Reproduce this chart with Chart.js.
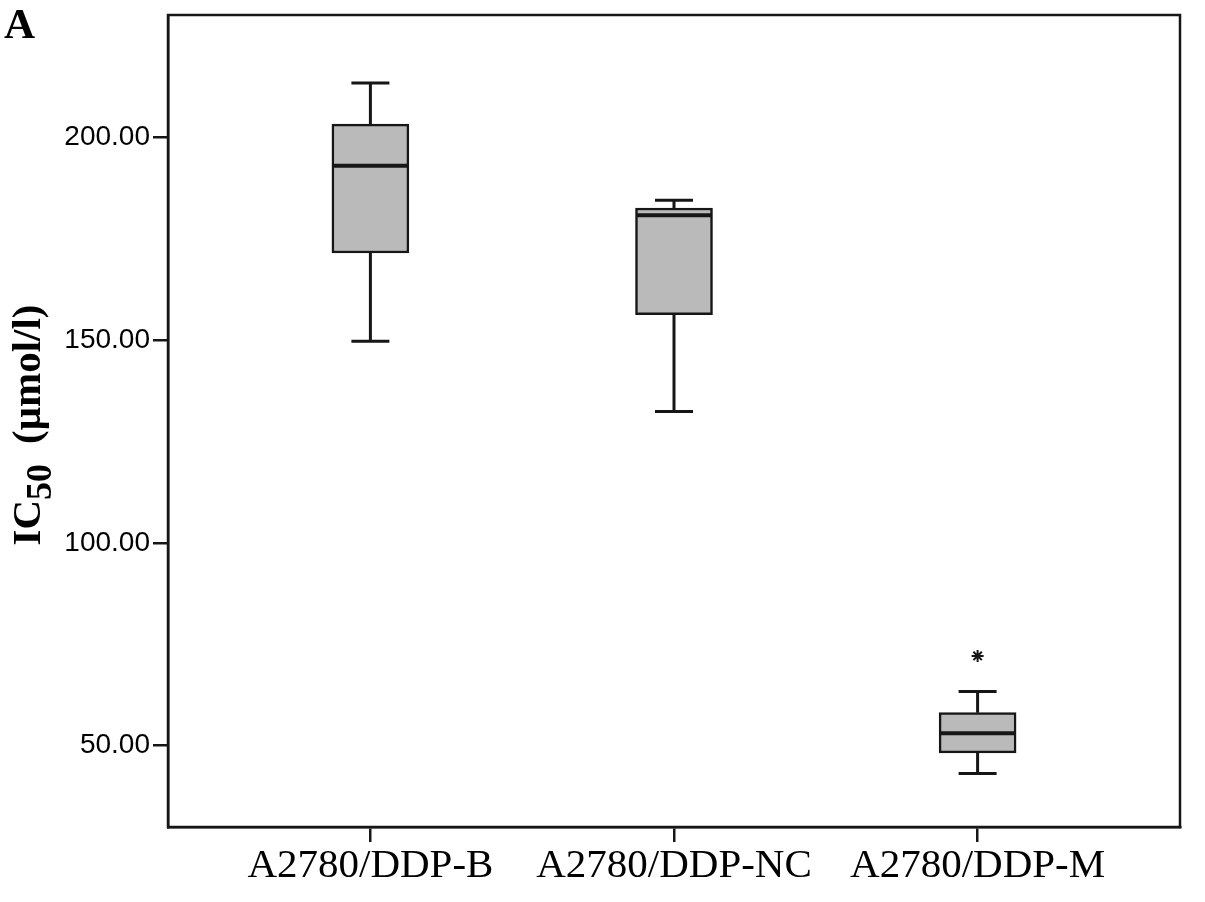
<!DOCTYPE html>
<html>
<head>
<meta charset="utf-8">
<script src="https://cdn.jsdelivr.net/npm/chart.js@4"></script>
<style>
  body { margin: 0; background: #fff; }
  canvas { display: block; }
</style>
</head>
<body>
<canvas id="grafico" width="1205" height="902"></canvas>
<script>
// datos
const categorias = ['A2780/DDP-B', 'A2780/DDP-NC', 'A2780/DDP-M'];
const posiciones = [1, 2, 3];
const minimos = [149.7, 132.4, 43.1];
const q1 = [171.5, 156.3, 48.2];
const medianas = [193.0, 180.8, 53.0];
const q3 = [203.3, 182.6, 58.1];
const maximos = [213.4, 184.5, 63.3];
const outlierX = [3];
const outlierY = [72.1];
const ticksY = [50, 100, 150, 200];

const negro = '#161616';

// bigotes, topes y mediana
const bigotes = {
  id: 'bigotes',
  afterDatasetsDraw(chart) {
    const { ctx, scales: { x, y } } = chart;
    ctx.save();
    ctx.strokeStyle = negro;
    posiciones.forEach((p, i) => {
      const cx = x.getPixelForValue(p);
      const medio = 19;
      ctx.lineWidth = 3;
      ctx.beginPath();
      ctx.moveTo(cx, y.getPixelForValue(q3[i]));
      ctx.lineTo(cx, y.getPixelForValue(maximos[i]));
      ctx.moveTo(cx, y.getPixelForValue(q1[i]));
      ctx.lineTo(cx, y.getPixelForValue(minimos[i]));
      ctx.moveTo(cx - medio, y.getPixelForValue(maximos[i]));
      ctx.lineTo(cx + medio, y.getPixelForValue(maximos[i]));
      ctx.moveTo(cx - medio, y.getPixelForValue(minimos[i]));
      ctx.lineTo(cx + medio, y.getPixelForValue(minimos[i]));
      ctx.stroke();
      ctx.lineWidth = 4;
      ctx.beginPath();
      ctx.moveTo(cx - 38, y.getPixelForValue(medianas[i]));
      ctx.lineTo(cx + 38, y.getPixelForValue(medianas[i]));
      ctx.stroke();
    });
    ctx.restore();
  }
};

// marco, letra A y titulo del eje Y
const marco = {
  id: 'marco',
  afterDraw(chart) {
    const { ctx, chartArea: a } = chart;
    ctx.save();
    ctx.strokeStyle = negro;
    ctx.lineWidth = 2.5;
    ctx.strokeRect(a.left, a.top, a.right - a.left, a.bottom - a.top);

    ctx.fillStyle = '#000';
    ctx.font = 'bold 43px "Liberation Serif"';
    ctx.textBaseline = 'alphabetic';
    ctx.fillText('A', 4, 38);

    const f1 = 'bold 41px "Liberation Serif"';
    const f2 = 'bold 36px "Liberation Serif"';
    ctx.font = f1;
    const wIC = ctx.measureText('IC').width;
    const wUn = ctx.measureText('(\u03bcmol/l)').width;
    ctx.font = f2;
    const w50 = ctx.measureText('50').width;
    const gap = 20;
    const total = wIC + w50 + gap + wUn;
    const inicio = (a.top + a.bottom) / 2 + total / 2 + 4;
    ctx.translate(40, inicio);
    ctx.rotate(-Math.PI / 2);
    ctx.font = f1;
    ctx.fillText('IC', 0, 0);
    ctx.font = f2;
    ctx.fillText('50', wIC, 11);
    ctx.font = f1;
    ctx.fillText('(\u03bcmol/l)', wIC + w50 + gap, 0);
    ctx.restore();
  }
};

const ctx = document.getElementById('grafico').getContext('2d');
const grafico = new Chart(ctx, {
  type: 'bar',
  data: {
    datasets: [
      {
        type: 'bar',
        data: posiciones.map((p, i) => ({ x: p, y: [q1[i], q3[i]] })),
        backgroundColor: '#bababa',
        borderColor: negro,
        borderWidth: 2.5,
        borderSkipped: false,
        barThickness: 77
      },
      {
        type: 'scatter',
        data: outlierX.map((v, i) => ({ x: v, y: outlierY[i] })),
        pointStyle: 'star',
        radius: 6,
        borderColor: negro,
        borderWidth: 2
      }
    ]
  },
  options: {
    responsive: false,
    animation: false,
    layout: { padding: { top: 15, right: 25, left: 0, bottom: 0 } },
    plugins: {
      legend: { display: false },
      tooltip: { enabled: false }
    },
    scales: {
      x: {
        type: 'linear',
        offset: false,
        min: 1 / 3,
        max: 11 / 3,
        afterBuildTicks: s => { s.ticks = posiciones.map(v => ({ value: v })); },
        afterFit: s => { s.height = 75; s.paddingLeft = 0; s.paddingRight = 0; },
        ticks: {
          callback: v => categorias[posiciones.indexOf(v)],
          font: { family: 'Liberation Serif', size: 41 },
          color: '#000',
          padding: 0,
          maxRotation: 0,
          autoSkip: false
        },
        grid: { offset: false, drawOnChartArea: false, drawTicks: true, tickLength: 15, color: negro, lineWidth: 2.5 },
        border: { color: negro, width: 2.5 }
      },
      y: {
        min: 29.9,
        max: 230.2,
        afterBuildTicks: s => { s.ticks = ticksY.map(v => ({ value: v })); },
        afterFit: s => { s.width = 168; s.paddingTop = 0; s.paddingBottom = 0; },
        ticks: {
          callback: v => v.toFixed(2),
          font: { family: 'Liberation Sans', size: 28 },
          color: '#000',
          padding: 3
        },
        grid: { drawOnChartArea: false, drawTicks: true, tickLength: 15, color: negro, lineWidth: 2.5 },
        border: { color: negro, width: 2.5 }
      }
    }
  },
  plugins: [bigotes, marco]
});
</script>
</body>
</html>
